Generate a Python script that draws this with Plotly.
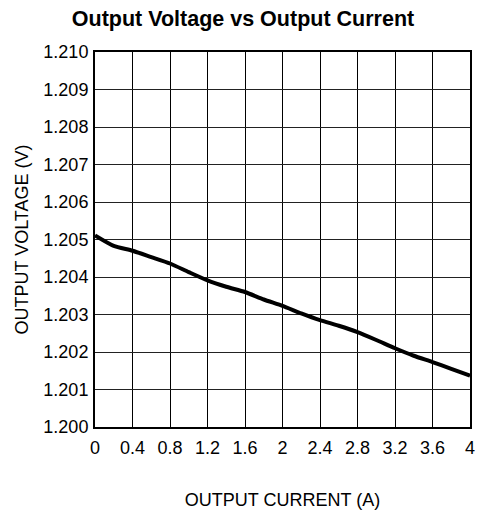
import plotly.graph_objects as go

current_a = [0.0, 0.2, 0.4, 0.6, 0.8, 1.0, 1.2, 1.4, 1.6, 1.8, 2.0, 2.2, 2.4, 2.6, 2.8, 3.0, 3.2, 3.4, 3.6, 3.8, 4.0]
voltage_v = [1.20511, 1.20483, 1.20470, 1.20453, 1.20436, 1.20413, 1.20391, 1.20374, 1.20360, 1.20340, 1.20323,
             1.20303, 1.20285, 1.20270, 1.20253, 1.20232, 1.20210, 1.20190, 1.20173, 1.20155, 1.20137]

x_ticks = [0, 0.4, 0.8, 1.2, 1.6, 2, 2.4, 2.8, 3.2, 3.6, 4]
x_tick_labels = ["0", "0.4", "0.8", "1.2", "1.6", "2", "2.4", "2.8", "3.2", "3.6", "4"]
y_ticks = [1.200, 1.201, 1.202, 1.203, 1.204, 1.205, 1.206, 1.207, 1.208, 1.209, 1.210]
y_tick_labels = ["1.200", "1.201", "1.202", "1.203", "1.204", "1.205", "1.206", "1.207", "1.208", "1.209", "1.210"]

font_family = "Liberation Sans, Arial, sans-serif"

fig = go.Figure()
fig.add_trace(go.Scatter(
    x=current_a, y=voltage_v, mode="lines",
    line=dict(color="black", width=4, shape="spline", smoothing=0.6),
    hoverinfo="x+y", showlegend=False,
))

fig.update_layout(
    width=485, height=512,
    margin=dict(l=95, r=15, t=52, b=85),
    paper_bgcolor="white", plot_bgcolor="white",
    font=dict(family=font_family, color="black", size=18),
    title=dict(text="<b>Output Voltage vs Output Current</b>", x=0.501, xref="container",
               xanchor="center", y=0.964, yref="container", yanchor="middle",
               font=dict(size=21.5, family=font_family, color="black")),
)

fig.update_xaxes(
    range=[0, 4], tickmode="array", tickvals=x_ticks, ticktext=x_tick_labels,
    showgrid=True, gridcolor="black", gridwidth=1.3,
    showline=True, linecolor="black", linewidth=2, mirror=True,
    ticks="", zeroline=False, tickfont=dict(size=18), ticklabelstandoff=3, automargin=False,
    title=dict(text="OUTPUT CURRENT (A)", font=dict(size=18), standoff=37),
)
fig.update_yaxes(
    range=[1.200, 1.210], tickmode="array", tickvals=y_ticks, ticktext=y_tick_labels,
    showgrid=True, gridcolor="#222", gridwidth=1.3,
    showline=True, linecolor="black", linewidth=2, mirror=True,
    ticks="", zeroline=False, tickfont=dict(size=18), ticklabelstandoff=1, automargin=False,
    title=dict(text="OUTPUT VOLTAGE (V)", font=dict(size=18), standoff=10),
)

fig.write_html("out.html", config={"displayModeBar": False},
               post_script="document.body.style.margin='0';document.body.style.overflow='hidden';")
